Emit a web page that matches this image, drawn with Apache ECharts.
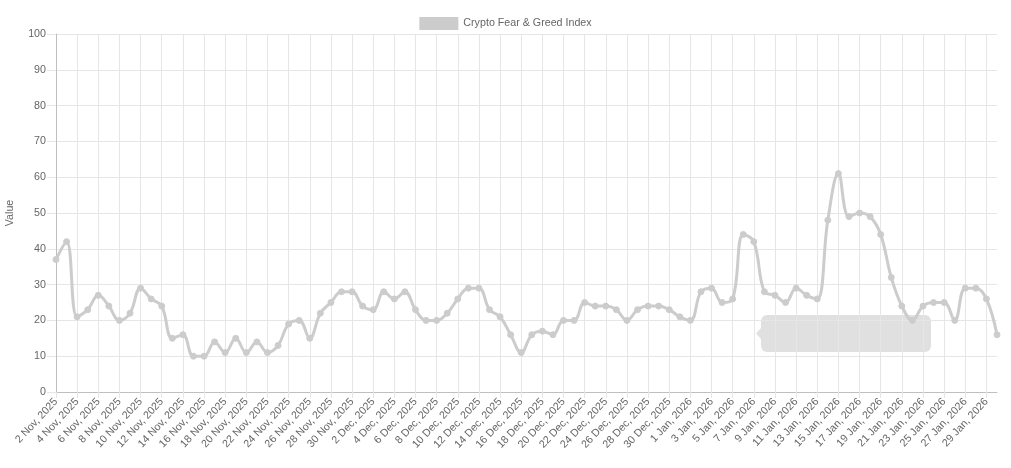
<!DOCTYPE html>
<html>
<head>
<meta charset="utf-8">
<script src="https://cdn.jsdelivr.net/npm/echarts@6/dist/echarts.min.js"></script>
<style>
html,body{margin:0;padding:0;background:#fff;}
#chart{width:1011px;height:468px;}
</style>
</head>
<body>
<div id="chart"></div>
<script>
const seriesName = 'Crypto Fear & Greed Index';
const yAxisName = 'Value';
const dates = [
  '2 Nov, 2025','3 Nov, 2025','4 Nov, 2025','5 Nov, 2025','6 Nov, 2025','7 Nov, 2025','8 Nov, 2025','9 Nov, 2025','10 Nov, 2025','11 Nov, 2025',
  '12 Nov, 2025','13 Nov, 2025','14 Nov, 2025','15 Nov, 2025','16 Nov, 2025','17 Nov, 2025','18 Nov, 2025','19 Nov, 2025','20 Nov, 2025','21 Nov, 2025',
  '22 Nov, 2025','23 Nov, 2025','24 Nov, 2025','25 Nov, 2025','26 Nov, 2025','27 Nov, 2025','28 Nov, 2025','29 Nov, 2025','30 Nov, 2025',
  '1 Dec, 2025','2 Dec, 2025','3 Dec, 2025','4 Dec, 2025','5 Dec, 2025','6 Dec, 2025','7 Dec, 2025','8 Dec, 2025','9 Dec, 2025','10 Dec, 2025',
  '11 Dec, 2025','12 Dec, 2025','13 Dec, 2025','14 Dec, 2025','15 Dec, 2025','16 Dec, 2025','17 Dec, 2025','18 Dec, 2025','19 Dec, 2025','20 Dec, 2025',
  '21 Dec, 2025','22 Dec, 2025','23 Dec, 2025','24 Dec, 2025','25 Dec, 2025','26 Dec, 2025','27 Dec, 2025','28 Dec, 2025','29 Dec, 2025','30 Dec, 2025','31 Dec, 2025',
  '1 Jan, 2026','2 Jan, 2026','3 Jan, 2026','4 Jan, 2026','5 Jan, 2026','6 Jan, 2026','7 Jan, 2026','8 Jan, 2026','9 Jan, 2026','10 Jan, 2026',
  '11 Jan, 2026','12 Jan, 2026','13 Jan, 2026','14 Jan, 2026','15 Jan, 2026','16 Jan, 2026','17 Jan, 2026','18 Jan, 2026','19 Jan, 2026','20 Jan, 2026',
  '21 Jan, 2026','22 Jan, 2026','23 Jan, 2026','24 Jan, 2026','25 Jan, 2026','26 Jan, 2026','27 Jan, 2026','28 Jan, 2026','29 Jan, 2026','30 Jan, 2026'
];
const novValues = [37,42,21,23,27,24,20,22,29,26,24,15,16,10,10,14,11,15,11,14,11,13,19,20,15,22,25,28,28];
const decValues = [24,23,28,26,28,23,20,20,22,26,29,29,23,21,16,11,16,17,16,20,20,25,24,24,23,20,23,24,24,23,21];
const janValues = [20,28,29,25,26,44,42,28,27,25,29,27,26,48,61,49,50,49,44,32,24,20,24,25,25,20,29,29,26,16];
const values = novValues.concat(decValues, janValues);
const yTicks = {min: 0, max: 100, interval: 10};

const chart = echarts.init(document.getElementById('chart'), null, {renderer: 'canvas'});
const font = "'Helvetica Neue', Helvetica, Arial, 'Liberation Sans', sans-serif";
const fs = 10.7;
chart.setOption({
  animation: false,
  textStyle: {fontFamily: font},
  legend: {
    top: 12,
    left: 'center',
    itemWidth: 39,
    itemHeight: 13,
    itemGap: 10,
    icon: 'rect',
    textStyle: {color: '#666', fontSize: fs, fontFamily: font},
    data: [{name: seriesName, itemStyle: {color: '#cccccc', borderColor: '#cccccc'}}]
  },
  grid: {left: 56, right: 14, top: 34, bottom: 76, containLabel: false, outerBoundsMode: 'none'},
  xAxis: {
    type: 'category',
    data: dates,
    boundaryGap: false,
    axisLine: {show: true, lineStyle: {color: '#bfbfbf', width: 1}},
    axisTick: {show: true, interval: 1, length: 6, lineStyle: {color: '#e6e6e6'}},
    axisLabel: {interval: 1, rotate: 47, color: '#666', fontSize: fs, margin: 8, fontFamily: font},
    splitLine: {show: true, interval: 1, lineStyle: {color: '#e6e6e6', width: 1}}
  },
  yAxis: {
    type: 'value',
    min: yTicks.min, max: yTicks.max, interval: yTicks.interval,
    name: yAxisName,
    nameLocation: 'middle',
    nameRotate: 90,
    nameGap: 40,
    nameTextStyle: {color: '#666', fontSize: fs, fontFamily: font},
    axisLine: {show: true, lineStyle: {color: '#bfbfbf', width: 1}},
    axisTick: {show: true, length: 9, lineStyle: {color: '#e6e6e6'}},
    axisLabel: {color: '#666', fontSize: fs, margin: 10, fontFamily: font},
    splitLine: {show: true, lineStyle: {color: '#e6e6e6', width: 1}}
  },
  series: [{
    name: seriesName,
    type: 'line',
    data: values,
    smooth: 0.4,
    symbol: 'circle',
    symbolSize: 6,
    showSymbol: true,
    lineStyle: {color: '#cccccc', width: 3},
    itemStyle: {color: '#cccccc', borderColor: '#cccccc'},
    z: 3
  }],
  graphic: [{
    type: 'group',
    z: 100,
    children: [{
      type: 'rect',
      shape: {x: 761, y: 315, width: 170, height: 37, r: 6},
      style: {fill: 'rgba(0,0,0,0.12)'}
    }, {
      type: 'polygon',
      shape: {points: [[761, 328], [756, 333.5], [761, 339]]},
      style: {fill: 'rgba(0,0,0,0.12)'}
    }]
  }]
});
</script>
</body>
</html>
